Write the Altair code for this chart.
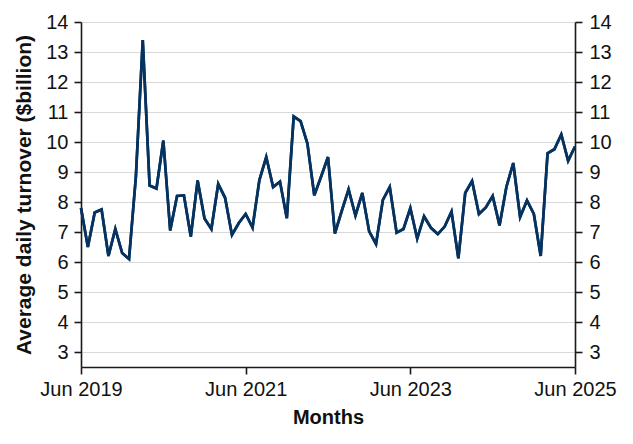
import altair as alt
import pandas as pd

# Monthly average daily turnover, Jun 2019 .. Jun 2025
start_year = 2019
start_month = 6
turnover = [7.8, 6.5, 7.65, 7.75, 6.2, 7.1, 6.3, 6.1, 8.85, 13.4,
            8.55, 8.45, 10.05, 7.05, 8.2, 8.22, 6.85, 8.72, 7.45, 7.1,
            8.6, 8.14, 6.9, 7.3, 7.6, 7.15, 8.73, 9.5, 8.5, 8.68,
            7.46, 10.85, 10.7, 9.95, 8.22, 8.85, 9.5, 6.95, 7.7, 8.42,
            7.55, 8.3, 7.02, 6.6, 8.07, 8.5, 6.98, 7.1, 7.8, 6.78,
            7.52, 7.14, 6.93, 7.18, 7.68, 6.12, 8.3, 8.7, 7.6, 7.82,
            8.2, 7.22, 8.5, 9.3, 7.5, 8.05, 7.6, 6.2, 9.62, 9.76,
            10.25, 9.37, 9.85]
month_labels = []
for i in range(len(turnover)):
    m = start_month - 1 + i
    month_labels.append(f"{start_year + m // 12}-{m % 12 + 1:02d}")
x_tick_values = [0, 24, 48, 72]
y_tick_values = [3, 4, 5, 6, 7, 8, 9, 10, 11, 12, 13, 14]

df = pd.DataFrame({"idx": list(range(len(turnover))),
                   "month": month_labels,
                   "value": turnover})

FONT = "Liberation Sans"
AX = "#1a1a1a"

x_enc = alt.X("idx:Q",
              scale=alt.Scale(domain=[0, 72], nice=False, zero=False),
              axis=alt.Axis(values=x_tick_values,
                            labelExpr="'Jun ' + (2019 + datum.value / 12)",
                            title="Months", grid=False,
                            labelFontSize=20, titleFontSize=20,
                            titleFontWeight="bold", labelPadding=5,
                            titlePadding=8, tickSize=7,
                            domainColor=AX, tickColor=AX,
                            domainWidth=1.6, tickWidth=1.6,
                            labelColor="#111", titleColor="#111",
                            labelFlush=False))

yscale = alt.Scale(domain=[2.5, 14], nice=False, zero=False)

left = alt.Chart(df).mark_line(color="#05325f", strokeWidth=2.7).encode(
    x=x_enc,
    y=alt.Y("value:Q", scale=yscale,
            axis=alt.Axis(values=y_tick_values, title="Average daily turnover ($billion)",
                          grid=True, gridColor="#d9d9d9", gridWidth=1.2,
                          labelFontSize=20, titleFontSize=21, titleFontWeight="bold",
                          labelPadding=6, titlePadding=11, tickSize=7,
                          domainColor=AX, tickColor=AX,
                          domainWidth=1.6, tickWidth=1.6,
                          labelColor="#111", titleColor="#111")),
)

right = alt.Chart(df).mark_line(color="#05325f", strokeWidth=2.7).encode(
    x=x_enc,
    y=alt.Y("value:Q", scale=yscale,
            axis=alt.Axis(values=y_tick_values, title=None, orient="right",
                          grid=False, labelFontSize=20, labelPadding=7, tickSize=7,
                          domainColor=AX, tickColor=AX,
                          domainWidth=1.6, tickWidth=1.6, labelColor="#111")),
)

chart = alt.layer(left, right).resolve_scale(y="independent").properties(
    width=494, height=345,
    autosize=alt.AutoSizeParams(type="none"),
    padding={"left": 73, "top": 14, "right": 50, "bottom": 62},
).configure(font=FONT).configure_view(stroke=None)

chart.save("out.html", embed_options={"renderer": "svg", "actions": False})
